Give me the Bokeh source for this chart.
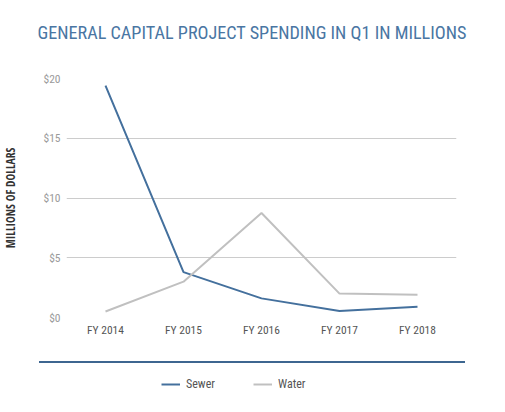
from bokeh.plotting import figure
from bokeh.layouts import column
from bokeh.models import (Range1d, FactorRange, FixedTicker, NumeralTickFormatter,
                          Legend, LegendItem, Div, Title)
from bokeh.embed import file_html
from bokeh.resources import INLINE

categories = ["FY 2014", "FY 2015", "FY 2016", "FY 2017", "FY 2018"]
sewer = [19.4, 3.8, 1.6, 0.55, 0.9]
water = [0.5, 3.0, 8.75, 2.0, 1.9]
y_ticks = [0, 5, 10, 15, 20]
series_names = ["Sewer", "Water"]

title_text = "GENERAL CAPITAL PROJECT SPENDING IN Q1 IN MILLIONS"
y_label_text = "MILLIONS OF DOLLARS"

FONT = "Roboto Condensed"
BOLD_FONT = "Open Sans Condensed"
SEWER_C = "#44709d"
WATER_C = "#c0c0c0"
W = 490

# --- main chart ---
p = figure(width=W, height=345, output_backend="svg", toolbar_location=None,
           x_range=FactorRange(*categories, range_padding=0),
           y_range=Range1d(0, 20),
           min_border_left=66, min_border_right=34, min_border_top=77, min_border_bottom=28)
p.outline_line_color = None

# thin spacer panel between the frame and the title (pushes the title up)
p.add_layout(Title(text=" ", text_font_size="1px", standoff=14), "above")

p.title.text = title_text
p.title.align = "left"
p.title.offset = -29
p.title.standoff = 38
p.title.text_font = FONT
p.title.text_font_size = "18.2px"
p.title.text_font_style = "normal"
p.title.text_color = "#4a76a3"

p.line(categories, sewer, line_color=SEWER_C, line_width=2)
p.line(categories, water, line_color=WATER_C, line_width=2)

p.xgrid.grid_line_color = None
p.ygrid.grid_line_color = "#cccccc"
p.ygrid.grid_line_width = 1

p.yaxis.ticker = FixedTicker(ticks=y_ticks)
p.yaxis.formatter = NumeralTickFormatter(format="$0")
for ax in (p.xaxis[0], p.yaxis[0]):
    ax.axis_line_color = None
    ax.major_tick_line_color = None
    ax.minor_tick_line_color = None
    ax.major_tick_out = 0
    ax.major_tick_in = 0
    ax.major_label_text_font = FONT
    ax.major_label_text_font_size = "11.5px"
p.yaxis.major_label_text_color = "#9a9a9a"
p.yaxis.major_label_standoff = 6
p.xaxis.major_label_text_color = "#555555"
p.xaxis.major_label_standoff = 5
p.yaxis.axis_label = y_label_text
p.yaxis.axis_label_text_font = BOLD_FONT
p.yaxis.axis_label_text_font_style = "bold"
p.yaxis.axis_label_text_font_size = "11.5px"
p.yaxis.axis_label_text_color = "#333333"
p.yaxis.axis_label_standoff = 22

# --- separator rule ---
sep = Div(text="", width=426, height=2, margin=(16, 0, 0, 39),
          styles={"background-color": "#3d6690"})

# --- legend strip ---
bot = figure(width=W, height=37, output_backend="svg", toolbar_location=None,
             x_range=Range1d(0, 390), y_range=Range1d(0, 37),
             min_border_left=66, min_border_right=34, min_border_top=0, min_border_bottom=0)
bot.axis.visible = False
bot.grid.visible = False
bot.outline_line_color = None
d1 = bot.line([0, 1], [-100, -100], line_color=SEWER_C, line_width=2)
d2 = bot.line([0, 1], [-100, -100], line_color=WATER_C, line_width=2)
legend = Legend(items=[LegendItem(label=series_names[0], renderers=[d1]),
                       LegendItem(label=series_names[1], renderers=[d2])],
                orientation="horizontal", location=(95, 6),
                padding=0, margin=0, spacing=0, glyph_width=19, glyph_height=20,
                label_standoff=6, label_width=67, label_height=20,
                label_text_font=FONT, label_text_font_size="12px",
                label_text_color="#555555", border_line_color=None,
                background_fill_alpha=0)
bot.add_layout(legend, "center")

layout = column(p, sep, bot, spacing=0)
open("out.html", "w").write(file_html(layout, INLINE))
